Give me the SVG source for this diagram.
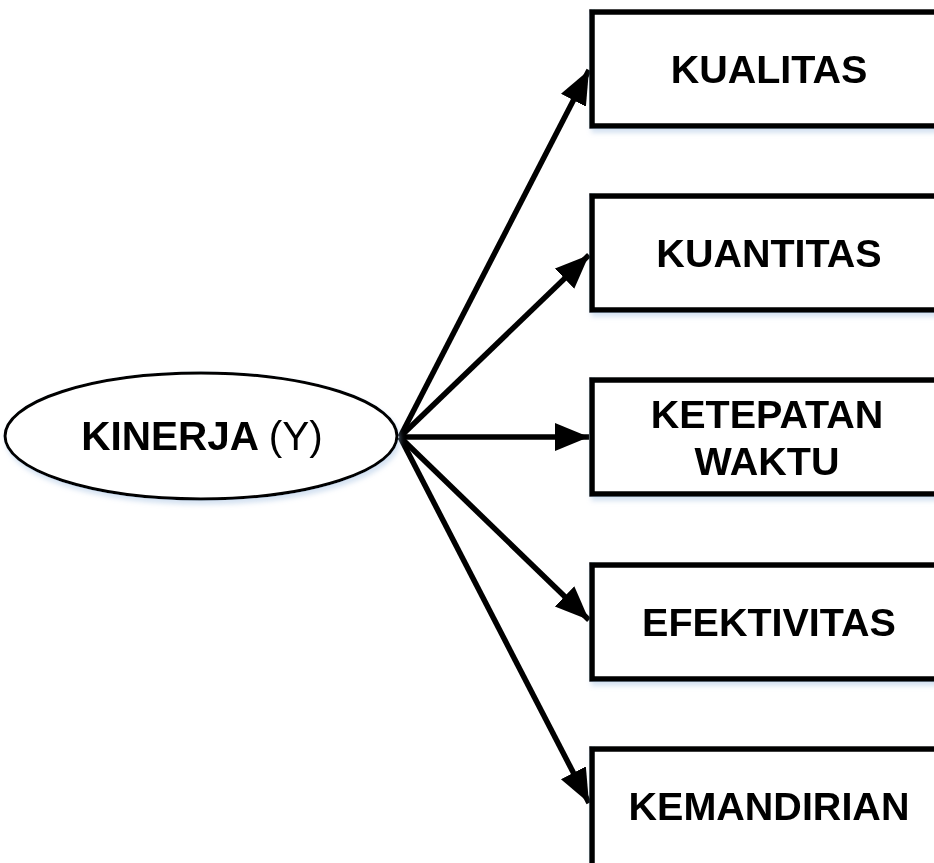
<svg xmlns="http://www.w3.org/2000/svg" width="934" height="863" viewBox="0 0 934 863">
  <defs>
    <!-- soft bluish glow under shapes and labels -->
    <filter id="soft" x="-10%" y="-20%" width="130%" height="150%">
      <feGaussianBlur in="SourceAlpha" stdDeviation="2.5" result="b"/>
      <feOffset in="b" dx="2" dy="4" result="o"/>
      <feFlood flood-color="#9fbde0" flood-opacity="0.45"/>
      <feComposite in2="o" operator="in" result="s"/>
      <feMerge><feMergeNode in="s"/><feMergeNode in="SourceGraphic"/></feMerge>
    </filter>
    <marker id="arrow" markerUnits="userSpaceOnUse" markerWidth="36" markerHeight="30" refX="34" refY="14" orient="auto">
      <path d="M0,0 L34,14 L0,28 Z" fill="#000"/>
    </marker>
    <style>
      .box { fill: #fff; stroke: #000; stroke-width: 5.5; }
      .oval { fill: #fff; stroke: #000; stroke-width: 3; }
      .lbl { font-family: "Liberation Sans", Arial, sans-serif; font-size: 39.5px; font-weight: bold; fill: #000; text-anchor: middle; }
      .big { font-size: 40.5px; }
      .reg { font-weight: normal; }
      .link { stroke: #000; stroke-width: 5.5; fill: none; marker-end: url(#arrow); }
    </style>
  </defs>

  <rect width="934" height="863" fill="#fff"/>

  <g id="connectors">
    <line class="link" x1="400" y1="437" x2="589" y2="70"/>
    <line class="link" x1="400" y1="437" x2="589" y2="255"/>
    <line class="link" x1="400" y1="437" x2="589" y2="437"/>
    <line class="link" x1="400" y1="437" x2="589" y2="620"/>
    <line class="link" x1="400" y1="437" x2="589" y2="803"/>
  </g>

  <g id="kinerja" filter="url(#soft)">
    <ellipse class="oval" cx="201" cy="436" rx="196" ry="63"/>
    <text class="lbl big" x="202" y="450">KINERJA <tspan class="reg">(Y)</tspan></text>
  </g>

  <g id="kualitas" filter="url(#soft)">
    <rect class="box" x="592" y="12" width="360" height="114"/>
    <text class="lbl" x="769" y="83">KUALITAS</text>
  </g>

  <g id="kuantitas" filter="url(#soft)">
    <rect class="box" x="592" y="196" width="360" height="114"/>
    <text class="lbl" x="769" y="267">KUANTITAS</text>
  </g>

  <g id="ketepatan-waktu" filter="url(#soft)">
    <rect class="box" x="592" y="380" width="360" height="114"/>
    <text class="lbl" x="767" y="428">KETEPATAN</text>
    <text class="lbl" x="767" y="475">WAKTU</text>
  </g>

  <g id="efektivitas" filter="url(#soft)">
    <rect class="box" x="592" y="565" width="360" height="114"/>
    <text class="lbl" x="769" y="636">EFEKTIVITAS</text>
  </g>

  <g id="kemandirian" filter="url(#soft)">
    <rect class="box" x="592" y="749" width="360" height="130"/>
    <text class="lbl" x="769" y="820">KEMANDIRIAN</text>
  </g>
</svg>
